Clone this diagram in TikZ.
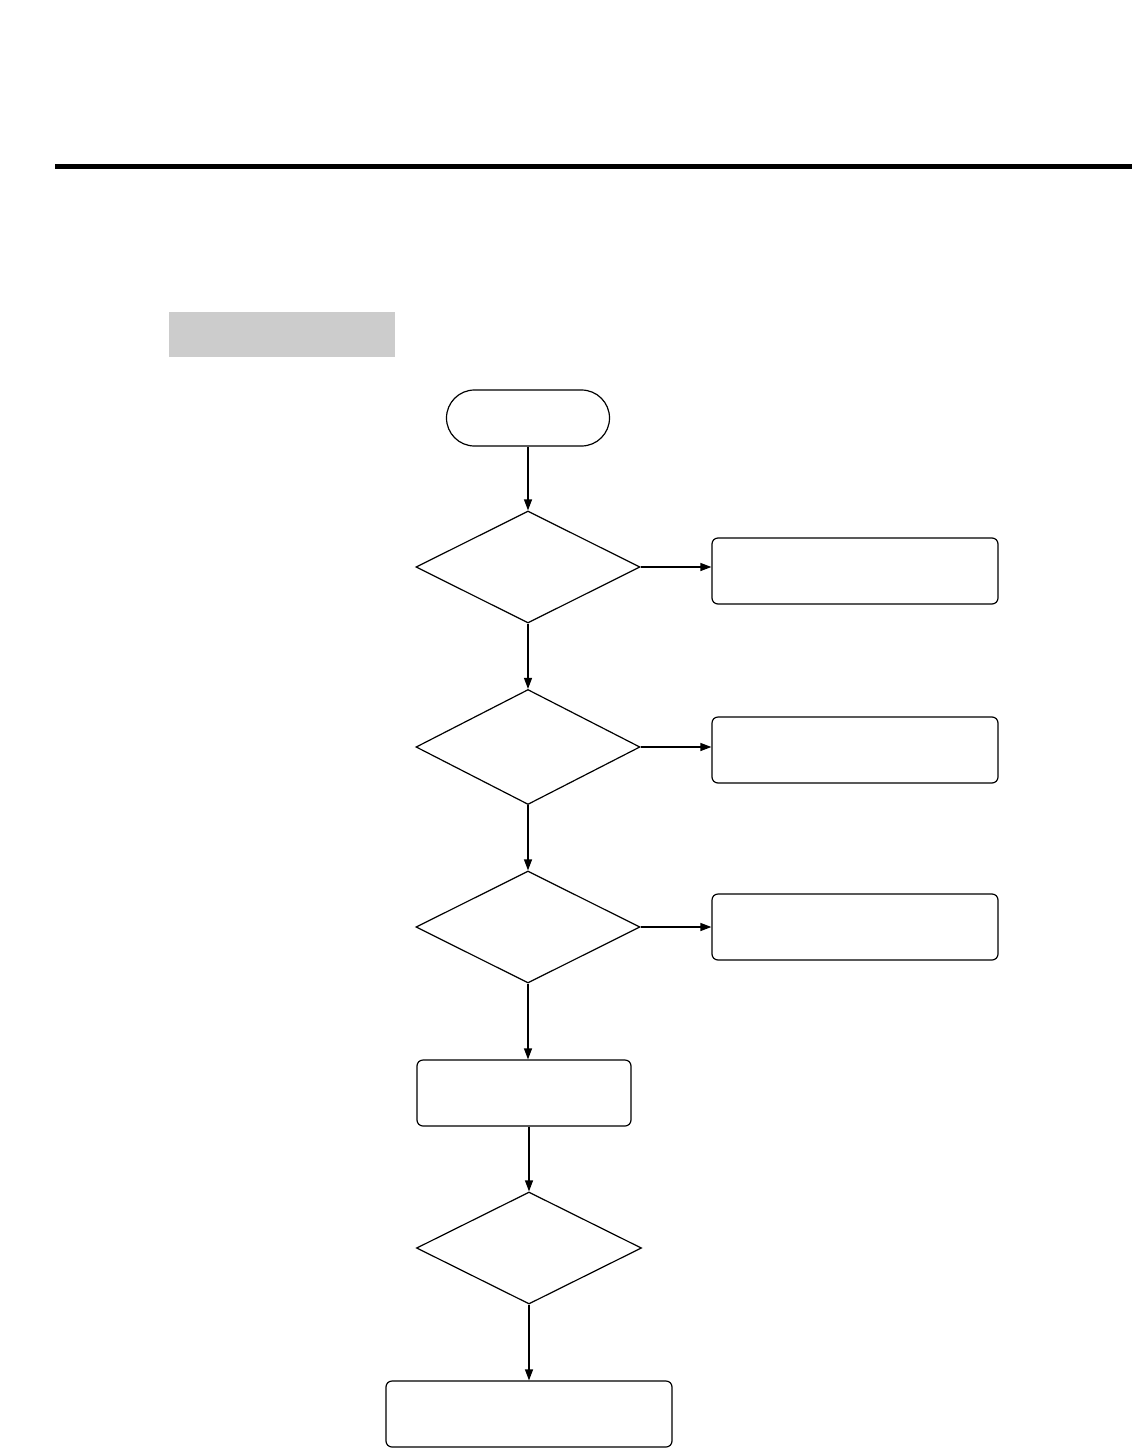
\documentclass[tikz,border=0pt]{standalone}
\usepackage{tikz}
\usetikzlibrary{shapes.geometric,arrows.meta}

\begin{document}
\begin{tikzpicture}[x=1pt, y=-1pt, line width=1.2pt,
		decision/.style={draw, diamond, aspect=2, inner sep=0pt, minimum width=224pt, minimum height=112pt},
		process/.style={draw, rectangle, rounded corners=6pt, inner sep=0pt},
		terminal/.style={draw, rectangle, rounded corners=28pt, inner sep=0pt, minimum width=163pt, minimum height=56pt},
		flow/.style={-{Triangle[length=11pt, width=8pt]}}]
				\useasboundingbox (0,0) rectangle (1132,1448);
				\draw[line width=5pt] (55,166) -- (1132,166);
				\node[fill=black!20, inner sep=0pt, minimum width=226pt, minimum height=45pt] (title) at (282,334) {};
				\node[terminal] (start) at (528,418) {};
				\node[decision] (check1) at (528,567) {};
				\node[decision, minimum height=115pt] (check2) at (528,747) {};
				\node[decision] (check3) at (528,927) {};
				\node[process, minimum width=214pt, minimum height=66pt] (step) at (524,1093) {};
				\node[decision, minimum width=225pt] (check4) at (529,1248) {};
				\node[process, minimum width=286pt, minimum height=66pt] (finish) at (529,1414) {};
				\foreach \i/\y in {1/571, 2/750, 3/927} {
					\node[process, minimum width=286pt, minimum height=66pt] (fix\i) at (855,\y) {};
				}
				\draw[flow] (start) -- (check1);
				\draw[flow] (check1) -- (check2);
				\draw[flow] (check2) -- (check3);
				\draw[flow] (check3.south) -- (check3.south |- step.north);
				\draw[flow] (step.south -| check4.north) -- (check4);
				\draw[flow] (check4) -- (finish);
				\foreach \i in {1,2,3} {
					\draw[flow] (check\i.east) -- (check\i.east -| fix\i.west);
				}
			\end{tikzpicture}
\end{document}
